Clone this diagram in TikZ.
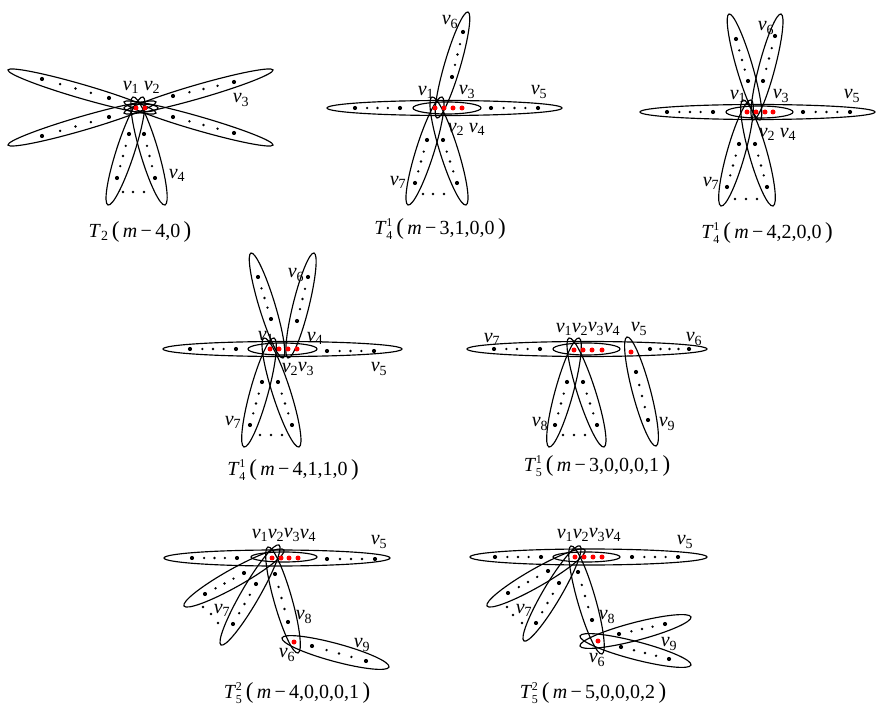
\documentclass[tikz,border=0pt]{standalone}
\usepackage{fontspec}
\setmainfont{Liberation Serif}
\usetikzlibrary{calc}
\newcommand\vv[1]{\textit{v}\textsubscript{#1}}
\newcommand\scr[1]{\hbox{\fontsize{12}{12}\selectfont #1}}
\newcommand\Tsb[2]{$\textit{T}\kern1pt{}^{\scr{#2}}_{\scr{#1}}$}
\newcommand\bigp[1]{{\fontsize{23}{23}\selectfont #1}}
\newcommand\Targ[1]{\,\bigp{(}\,\textit{m}\,−\,#1\,\bigp{)}}
\newcommand\hpetal[5]{%
  \pgfmathsetmacro\pA{atan2((#4)-(#2),(#3)-(#1))}%
  \pgfmathsetmacro\pL{veclen((#3)-(#1),(#4)-(#2))/2}%
  \draw[shift={({((#1)+(#3))/2},{((#2)+(#4))/2})},rotate=-\pA] (0,0) ellipse ({\pL pt} and {#5pt});}
\newcommand\smdot[2]{\fill (#1,#2) circle (1.3pt);}
\newcommand\reddot[2]{\fill[red] (#1,#2) circle (2.5pt);}
\newcommand\dotrow[4]{%
  \fill (#1,#2) circle (2.1pt);
  \fill (#3,#4) circle (2.1pt);
  \foreach \q in {0.27,0.5,0.73} {\fill ($(#1,#2)!\q!(#3,#4)$) circle (1.3pt);}}
\begin{document}
\begin{tikzpicture}[x=1pt,y=-1pt,line width=1.15pt,
  lab/.style={font=\fontsize{20}{22}\selectfont,inner sep=0pt},
  ttl/.style={font=\fontsize{20}{22}\selectfont,inner sep=0pt}]
\useasboundingbox (0,0) rectangle (876,708);
% ---------------- Panel 1
\hpetal{8}{70}{156}{113}{7}
\hpetal{8}{145}{156}{102}{7}
\hpetal{273}{70}{124}{113}{7}
\hpetal{273}{145}{124}{102}{7}
\hpetal{143}{97}{108}{205}{9}
\hpetal{133}{97}{165}{205}{9}
\hpetal{124}{108}{158}{108}{4}
\reddot{136}{108}\reddot{145}{108}
\dotrow{42}{79}{109}{98}
\dotrow{42}{136}{109}{117}
\dotrow{234}{82}{173}{96}
\dotrow{234}{133}{173}{117}
\dotrow{129}{134}{117}{178}
\dotrow{144}{134}{155}{178}
\smdot{123}{192}\smdot{133}{192}\smdot{144}{192}
\node[lab] (a1) at (131,87) {\vv{1}};
\node[lab] (a2) at (152,87) {\vv{2}};
\node[lab] (a3) at (241,100) {\vv{3}};
\node[lab] (a4) at (177,175) {\vv{4}};
\node[ttl] (ta) at (140,232) {\textit{T}\textsubscript{2}\Targ{4,0}};
% ---------------- Panel 2
\hpetal{327}{108}{562}{108}{7.5}
\hpetal{413}{108}{481}{108}{6}
\hpetal{437}{118}{468}{12}{8}
\hpetal{442}{97}{408}{205}{9}
\hpetal{432}{97}{466}{205}{9}
\reddot{435}{108}\reddot{444}{108}\reddot{453}{108}\reddot{462}{108}
\dotrow{355}{108}{400}{108}
\dotrow{491}{108}{538}{108}
\dotrow{452}{77}{463}{32}
\dotrow{427}{140}{415}{183}
\dotrow{443}{140}{457}{183}
\smdot{423}{194}\smdot{433}{194}\smdot{444}{194}
\node[lab] (b6) at (450,22) {\vv{6}};
\node[lab] (b1) at (426,92) {\vv{1}};
\node[lab] (b3) at (467,92) {\vv{3}};
\node[lab] (b5) at (539,92) {\vv{5}};
\node[lab] (b2) at (456,129) {\vv{2}};
\node[lab] (b4) at (477,129) {\vv{4}};
\node[lab] (b7) at (398,182) {\vv{7}};
\node[ttl] (tb) at (440,229) {\Tsb{4}{1}\Targ{3,1,0,0}};
% ---------------- Panel 3
\hpetal{640}{112}{875}{112}{7.5}
\hpetal{726}{112}{793}{112}{6}
\hpetal{729}{14}{760}{120}{8}
\hpetal{781}{14}{753}{120}{8}
\hpetal{751}{100}{721}{206}{9}
\hpetal{743}{100}{773}{206}{9}
\reddot{747}{112}\reddot{756}{112}\reddot{765}{112}\reddot{773}{112}
\dotrow{667}{112}{713}{112}
\dotrow{803}{112}{850}{112}
\dotrow{748}{81}{736}{39}
\dotrow{763}{81}{775}{36}
\dotrow{739}{144}{727}{187}
\dotrow{755}{144}{767}{187}
\smdot{735}{199}\smdot{746}{199}\smdot{757}{199}
\node[lab] (c6) at (766,28) {\vv{6}};
\node[lab] (c1) at (738,96) {\vv{1}};
\node[lab] (c3) at (781,96) {\vv{3}};
\node[lab] (c5) at (852,96) {\vv{5}};
\node[lab] (c2) at (767,134) {\vv{2}};
\node[lab] (c4) at (788,134) {\vv{4}};
\node[lab] (c7) at (711,183) {\vv{7}};
\node[ttl] (tc) at (767,233) {\Tsb{4}{1}\Targ{4,2,0,0}};
% ---------------- Panel 4
\hpetal{163}{349}{402}{349}{7.5}
\hpetal{248}{349}{317}{349}{6}
\hpetal{251}{253}{283}{358}{8}
\hpetal{314}{253}{288}{358}{8}
\hpetal{274}{338}{244}{447}{9}
\hpetal{264}{338}{299}{447}{9}
\reddot{270}{349}\reddot{279}{349}\reddot{288}{349}\reddot{297}{349}
\dotrow{190}{349}{236}{349}
\dotrow{327}{351}{374}{351}
\dotrow{258}{277}{271}{319}
\dotrow{308}{277}{297}{321}
\dotrow{262}{382}{250}{425}
\dotrow{278}{382}{292}{425}
\smdot{260}{435}\smdot{271}{435}\smdot{282}{435}
\node[lab] (d6) at (296,275) {\vv{6}};
\node[lab] (d1) at (266,337) {\vv{1}};
\node[lab] (d4) at (315,338) {\vv{4}};
\node[lab] (d2) at (290,369) {\vv{2}};
\node[lab] (d3) at (306,369) {\vv{3}};
\node[lab] (d5) at (379,369) {\vv{5}};
\node[lab] (d7) at (233,422) {\vv{7}};
\node[ttl] (td) at (293,470) {\Tsb{4}{1}\Targ{4,1,1,0}};
% ---------------- Panel 5
\hpetal{467}{349}{707}{349}{7.5}
\hpetal{553}{349}{620}{349}{6}
\hpetal{579}{338}{549}{447}{9}
\hpetal{569}{338}{604}{447}{9}
\hpetal{627}{337}{656}{446}{9}
\reddot{574}{350}\reddot{583}{350}\reddot{592}{350}\reddot{602}{350}
\reddot{631}{352}
\dotrow{494}{349}{540}{349}
\dotrow{650}{349}{689}{349}
\dotrow{567}{382}{555}{425}
\dotrow{583}{382}{597}{425}
\dotrow{636}{372}{648}{420}
\smdot{563}{435}\smdot{574}{435}\smdot{585}{435}
\node[lab] (e7) at (492,339) {\vv{7}};
\node[lab] (e1) at (564,329) {\vv{1}};
\node[lab] (e2) at (580,329) {\vv{2}};
\node[lab] (e3) at (596,329) {\vv{3}};
\node[lab] (e4) at (612,329) {\vv{4}};
\node[lab] (e5) at (639,329) {\vv{5}};
\node[lab] (e6) at (694,339) {\vv{6}};
\node[lab] (e8) at (540,424) {\vv{8}};
\node[lab] (e9) at (667,424) {\vv{9}};
\node[ttl] (te) at (597,466) {\Tsb{5}{1}\Targ{3,0,0,0,1}};
% ---------------- Panel 6
\hpetal{164}{558}{390}{558}{8}
\hpetal{251}{557}{317}{557}{5}
\hpetal{284}{550}{184}{606}{9}
\hpetal{279}{545}{221}{645}{9}
\hpetal{268}{547}{298}{653}{9}
\hpetal{282}{638}{389}{667}{9}
\reddot{272}{558}\reddot{281}{558}\reddot{289}{558}\reddot{298}{558}
\reddot{294}{642}
\dotrow{192}{558}{237}{558}
\dotrow{327}{559}{375}{559}
\dotrow{244}{573}{205}{594}
\dotrow{256}{584}{233}{624}
\dotrow{275}{574}{288}{622}
\dotrow{312}{646}{366}{661}
\smdot{203}{607}\smdot{211}{614}\smdot{218}{623}
\node[lab] (f1) at (260,535) {\vv{1}};
\node[lab] (f2) at (276,535) {\vv{2}};
\node[lab] (f3) at (292,535) {\vv{3}};
\node[lab] (f4) at (308,535) {\vv{4}};
\node[lab] (f5) at (379,542) {\vv{5}};
\node[lab] (f7) at (222,610) {\vv{7}};
\node[lab] (f8) at (304,617) {\vv{8}};
\node[lab] (f6) at (287,655) {\vv{6}};
\node[lab] (f9) at (362,645) {\vv{9}};
\node[ttl] (tf) at (297,693) {\Tsb{5}{2}\Targ{4,0,0,0,1}};
% ---------------- Panel 7
\hpetal{470}{557}{707}{557}{8}
\hpetal{553}{557}{620}{557}{5}
\hpetal{585}{550}{487}{606}{9}
\hpetal{580}{546}{524}{641}{9}
\hpetal{571}{546}{602}{654}{9}
\hpetal{580}{646}{691}{617}{9}
\hpetal{580}{636}{691}{665}{9}
\reddot{575}{557}\reddot{584}{557}\reddot{593}{557}\reddot{602}{557}
\reddot{598}{641}
\dotrow{495}{557}{541}{557}
\dotrow{632}{557}{678}{557}
\dotrow{548}{571}{508}{593}
\dotrow{559}{583}{536}{623}
\dotrow{578}{572}{592}{620}
\dotrow{619}{634}{665}{624}
\dotrow{621}{647}{669}{659}
\smdot{507}{607}\smdot{513}{615}\smdot{522}{623}
\node[lab] (g1) at (565,535) {\vv{1}};
\node[lab] (g2) at (581,535) {\vv{2}};
\node[lab] (g3) at (597,535) {\vv{3}};
\node[lab] (g4) at (613,535) {\vv{4}};
\node[lab] (g5) at (685,542) {\vv{5}};
\node[lab] (g7) at (524,610) {\vv{7}};
\node[lab] (g8) at (607,617) {\vv{8}};
\node[lab] (g9) at (669,644) {\vv{9}};
\node[lab] (g6) at (597,660) {\vv{6}};
\node[ttl] (tg) at (593,693) {\Tsb{5}{2}\Targ{5,0,0,0,2}};
\end{tikzpicture}
\end{document}
